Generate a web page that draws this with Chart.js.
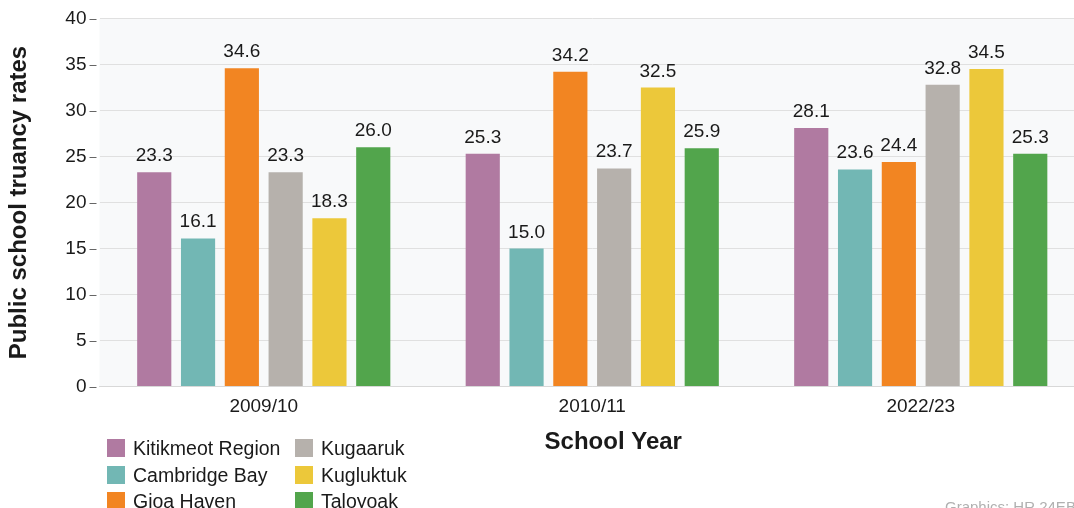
<!DOCTYPE html>
<html>
<head>
<meta charset="utf-8">
<script src="https://cdn.jsdelivr.net/npm/chart.js@4.4.1/dist/chart.umd.min.js"></script>
<style>
  html, body { margin: 0; padding: 0; background: #ffffff; overflow: hidden; width: 1074px; height: 508px; }
  #wrap { position: relative; width: 1090px; height: 508px; }
  canvas { position: absolute; left: 0; top: 0; }
  .legend { position: absolute; font-family: "Liberation Sans", Arial, sans-serif; font-size: 19.5px; color: #1a1a1a; }
  .item { position: absolute; white-space: nowrap; height: 24px; line-height: 24px; }
  .sw { position: absolute; width: 18px; height: 18px; top: 3px; left: 0; }
  .lbl { position: absolute; top: 0; }
  #credit { position: absolute; left: 945px; top: 498px; font-family: "Liberation Sans", Arial, sans-serif; font-size: 15px; color: #b0b0b0; white-space: nowrap; }
</style>
</head>
<body>
<div id="wrap">
  <canvas id="c" width="1090" height="508"></canvas>
  <div class="legend" id="legend"></div>
  <div id="credit">Graphics: HR 24EB</div>
</div>
<script>
const categories = ["2009/10", "2010/11", "2022/23"];
const seriesNames = ["Kitikmeot Region", "Cambridge Bay", "Gjoa Haven", "Kugaaruk", "Kugluktuk", "Taloyoak"];
const kitikmeot = [23.3, 25.3, 28.1];
const cambridgeBay = [16.1, 15.0, 23.6];
const gjoaHaven = [34.6, 34.2, 24.4];
const kugaaruk = [23.3, 23.7, 32.8];
const kugluktuk = [18.3, 32.5, 34.5];
const taloyoak = [26.0, 25.9, 25.3];
const seriesColors = ["#b07aa1", "#72b7b4", "#f28522", "#b6b1ac", "#ecc83a", "#52a54c"];
const yTicks = [0, 5, 10, 15, 20, 25, 30, 35, 40];
const yTitle = "Public school truancy rates";
const xTitle = "School Year";

const seriesValues = [kitikmeot, cambridgeBay, gjoaHaven, kugaaruk, kugluktuk, taloyoak];
const FONT = '"Liberation Sans", Arial, sans-serif';

// HTML legend (two columns, three rows)
const legend = document.getElementById('legend');
const colX = [107, 295];
const rowY = [436, 462.5, 489];
seriesNames.forEach((name, i) => {
  const col = Math.floor(i / 3), row = i % 3;
  const d = document.createElement('div');
  d.className = 'item';
  d.style.left = colX[col] + 'px';
  d.style.top = rowY[row] + 'px';
  d.innerHTML = '<span class="sw" style="background:' + seriesColors[i] + '"></span><span class="lbl" style="left:26px">' + name + '</span>';
  legend.appendChild(d);
});

const decor = {
  id: 'decor',
  beforeDraw(chart) {
    const {ctx, chartArea: a} = chart;
    ctx.save();
    ctx.fillStyle = '#f8f9fa';
    ctx.fillRect(a.left, a.top, a.right - a.left, a.bottom - a.top);
    ctx.restore();
  },
  afterDraw(chart) {
    const {ctx, chartArea: a, scales} = chart;
    ctx.save();
    // y tick dashes
    ctx.strokeStyle = '#666';
    ctx.lineWidth = 1;
    yTicks.forEach(v => {
      const y = Math.round(scales.y.getPixelForValue(v)) + 0.5;
      ctx.beginPath();
      ctx.moveTo(a.left - 10, y);
      ctx.lineTo(a.left - 3, y);
      ctx.stroke();
    });
    // value labels
    ctx.fillStyle = '#1a1a1a';
    ctx.font = '19px ' + FONT;
    ctx.textAlign = 'center';
    ctx.textBaseline = 'alphabetic';
    chart.data.datasets.forEach((ds, i) => {
      chart.getDatasetMeta(i).data.forEach((bar, j) => {
        ctx.fillText(ds.data[j].toFixed(1), bar.x, bar.y - 11);
      });
    });
    // x title
    ctx.font = 'bold 24px ' + FONT;
    ctx.fillStyle = '#1a1a1a';
    ctx.textBaseline = 'middle';
    ctx.fillText(xTitle, (a.left + a.right) / 2 + 21, 442);
    ctx.restore();
  }
};

new Chart(document.getElementById('c'), {
  type: 'bar',
  data: {
    labels: categories,
    datasets: seriesNames.map((n, i) => ({
      label: n,
      data: seriesValues[i],
      backgroundColor: seriesColors[i],
      borderWidth: 0,
      categoryPercentage: 0.8,
      barPercentage: 0.78
    }))
  },
  options: {
    responsive: false,
    animation: false,
    layout: { padding: { top: 18.5, right: 5, bottom: 0, left: 0 } },
    plugins: { legend: { display: false }, tooltip: { enabled: false } },
    scales: {
      x: {
        grid: { display: false, drawTicks: false },
        border: { display: true, color: '#d8d8d8' },
        ticks: { color: '#1a1a1a', font: { family: FONT, size: 19 }, padding: 9 },
        afterFit(s) { s.height = 121.5; s.paddingLeft = 0; s.paddingRight = 0; }
      },
      y: {
        min: 0, max: 40,
        afterBuildTicks(s) { s.ticks = yTicks.map(v => ({ value: v })); },
        grid: { color: '#e0e0e0', drawTicks: false },
        border: { display: false },
        ticks: { color: '#1a1a1a', font: { family: FONT, size: 19 }, padding: 13 },
        title: { display: true, text: yTitle, color: '#1a1a1a', font: { family: FONT, size: 24, weight: 'bold' }, padding: { top: 5, bottom: 0 } },
        afterFit(s) { s.width = 99.5; s.paddingTop = 0; s.paddingBottom = 0; }
      }
    }
  },
  plugins: [decor]
});
</script>
</body>
</html>
